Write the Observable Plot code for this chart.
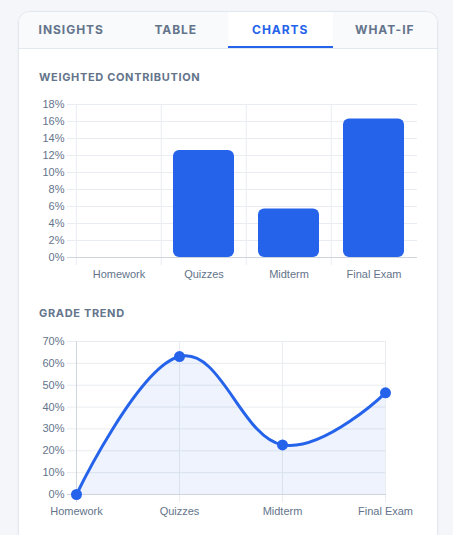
<!DOCTYPE html>
<html>
<head>
<meta charset="utf-8">
<script src="https://cdn.jsdelivr.net/npm/d3@7"></script>
<script src="https://cdn.jsdelivr.net/npm/@observablehq/plot@0.6"></script>
<style>
  html, body { margin: 0; padding: 0; }
  body { width: 453px; height: 535px; background: #f4f6f9; position: relative; overflow: hidden; font-family: Inter, "Noto Sans", sans-serif; }
  .card { position: absolute; left: 18px; top: 11px; width: 418px; height: 560px; background: #fff; border: 1px solid #e2e8f0; border-radius: 12px; overflow: hidden; box-shadow: 0 1px 3px rgba(15,23,42,0.05); }
  .tabs { display: flex; height: 36px; background: #f8fafc; border-bottom: 1px solid #e2e8f0; }
  .tab { flex: 1; display: flex; align-items: center; justify-content: center; font-size: 12px; font-weight: 700; letter-spacing: 0.08em; color: #64748b; box-sizing: border-box; padding-bottom: 1px; }
  .tab.active { background: #fff; color: #2563eb; border-bottom: 2.5px solid #2563eb; padding-bottom: 0; }
  .heading { position: absolute; left: 39px; font-size: 11px; font-weight: 700; letter-spacing: 0.06em; color: #64748b; line-height: 14px; }
  .chart { position: absolute; left: 20px; }
</style>
</head>
<body>
<div class="card">
  <div class="tabs">
    <div class="tab">INSIGHTS</div>
    <div class="tab">TABLE</div>
    <div class="tab active">CHARTS</div>
    <div class="tab">WHAT-IF</div>
  </div>
</div>
<div class="heading" style="top:70px">WEIGHTED CONTRIBUTION</div>
<div class="heading" style="top:306px">GRADE TREND</div>
<div class="chart" id="bars" style="top:95px"></div>
<div class="chart" id="trend" style="top:330px"></div>
<script>
// ---- data ----
const categories = ["Homework", "Quizzes", "Midterm", "Final Exam"];
const contribution = [0, 12.6, 5.7, 16.3];     // weighted contribution, %
const trendValues = [0, 63.1, 22.7, 46.5];     // grade, %
const contribTicks = [0, 2, 4, 6, 8, 10, 12, 14, 16, 18];
const trendTicks = [0, 10, 20, 30, 40, 50, 60, 70];

const blue = "#2563eb";
const grid = "#e9ecf0";
const axisLine = "#cfd5dd";
const labelColor = "#64748b";
const font = "'Liberation Sans', Arial, sans-serif";

const barData = categories.map((c, i) => ({cat: c, value: contribution[i]}));
const trendData = categories.map((c, i) => ({cat: c, value: trendValues[i]}));

// ---- bar chart ----
{
  const W = 410, H = 190, ml = 55, mr = 13, mt = 9, mb = 28;
  const bw = (W - ml - mr) / categories.length;
  const chart = Plot.plot({
    width: W, height: H,
    marginLeft: ml, marginRight: mr, marginTop: mt, marginBottom: mb,
    style: {fontFamily: font, fontSize: "11px", color: labelColor, background: "transparent", overflow: "visible"},
    x: {type: "band", domain: categories, padding: 0, label: null},
    y: {domain: [0, 18], label: null},
    marks: [
      Plot.ruleY(contribTicks.filter(d => d > 0), {stroke: grid, insetLeft: -8}),
      Plot.ruleX(categories, {x: d => d, dx: -bw / 2, stroke: grid, insetBottom: -8}),
      Plot.barY(barData, {x: "cat", y: "value", fill: blue, insetLeft: 12, insetRight: 12, rx: 6}),
      Plot.ruleY([0], {stroke: axisLine, insetLeft: -8}),
      Plot.axisY({ticks: contribTicks, tickSize: 0, tickPadding: 11, tickFormat: d => d + "%", label: null}),
      Plot.axisX({tickSize: 0, tickPadding: 13, label: null})
    ]
  });
  document.getElementById("bars").appendChild(chart);
}

// ---- line chart ----
{
  const W = 410, H = 200, ml = 55, mr = 44, mt = 11, mb = 36;
  const curve = {curve: "cardinal", tension: -0.2};
  const chart = Plot.plot({
    width: W, height: H,
    marginLeft: ml, marginRight: mr, marginTop: mt, marginBottom: mb,
    style: {fontFamily: font, fontSize: "11px", color: labelColor, background: "transparent", overflow: "visible"},
    x: {type: "point", domain: categories, padding: 0, label: null},
    y: {domain: [0, 70], label: null},
    marks: [
      Plot.ruleY(trendTicks.filter(d => d > 0), {stroke: grid, insetLeft: -8}),
      Plot.ruleX(categories, {x: d => d, stroke: grid, insetBottom: -8}),
      Plot.areaY(trendData, {x: "cat", y: "value", fill: blue, fillOpacity: 0.08, ...curve}),
      Plot.ruleX([categories[0]], {stroke: axisLine, insetBottom: -8}),
      Plot.ruleY([0], {stroke: axisLine, insetLeft: -8}),
      Plot.lineY(trendData, {x: "cat", y: "value", stroke: blue, strokeWidth: 3, ...curve}),
      Plot.dot(trendData, {x: "cat", y: "value", fill: blue, r: 5.5}),
      Plot.axisY({ticks: trendTicks, tickSize: 0, tickPadding: 11, tickFormat: d => d + "%", label: null}),
      Plot.axisX({tickSize: 0, tickPadding: 13, label: null})
    ]
  });
  document.getElementById("trend").appendChild(chart);
}
</script>
</body>
</html>
